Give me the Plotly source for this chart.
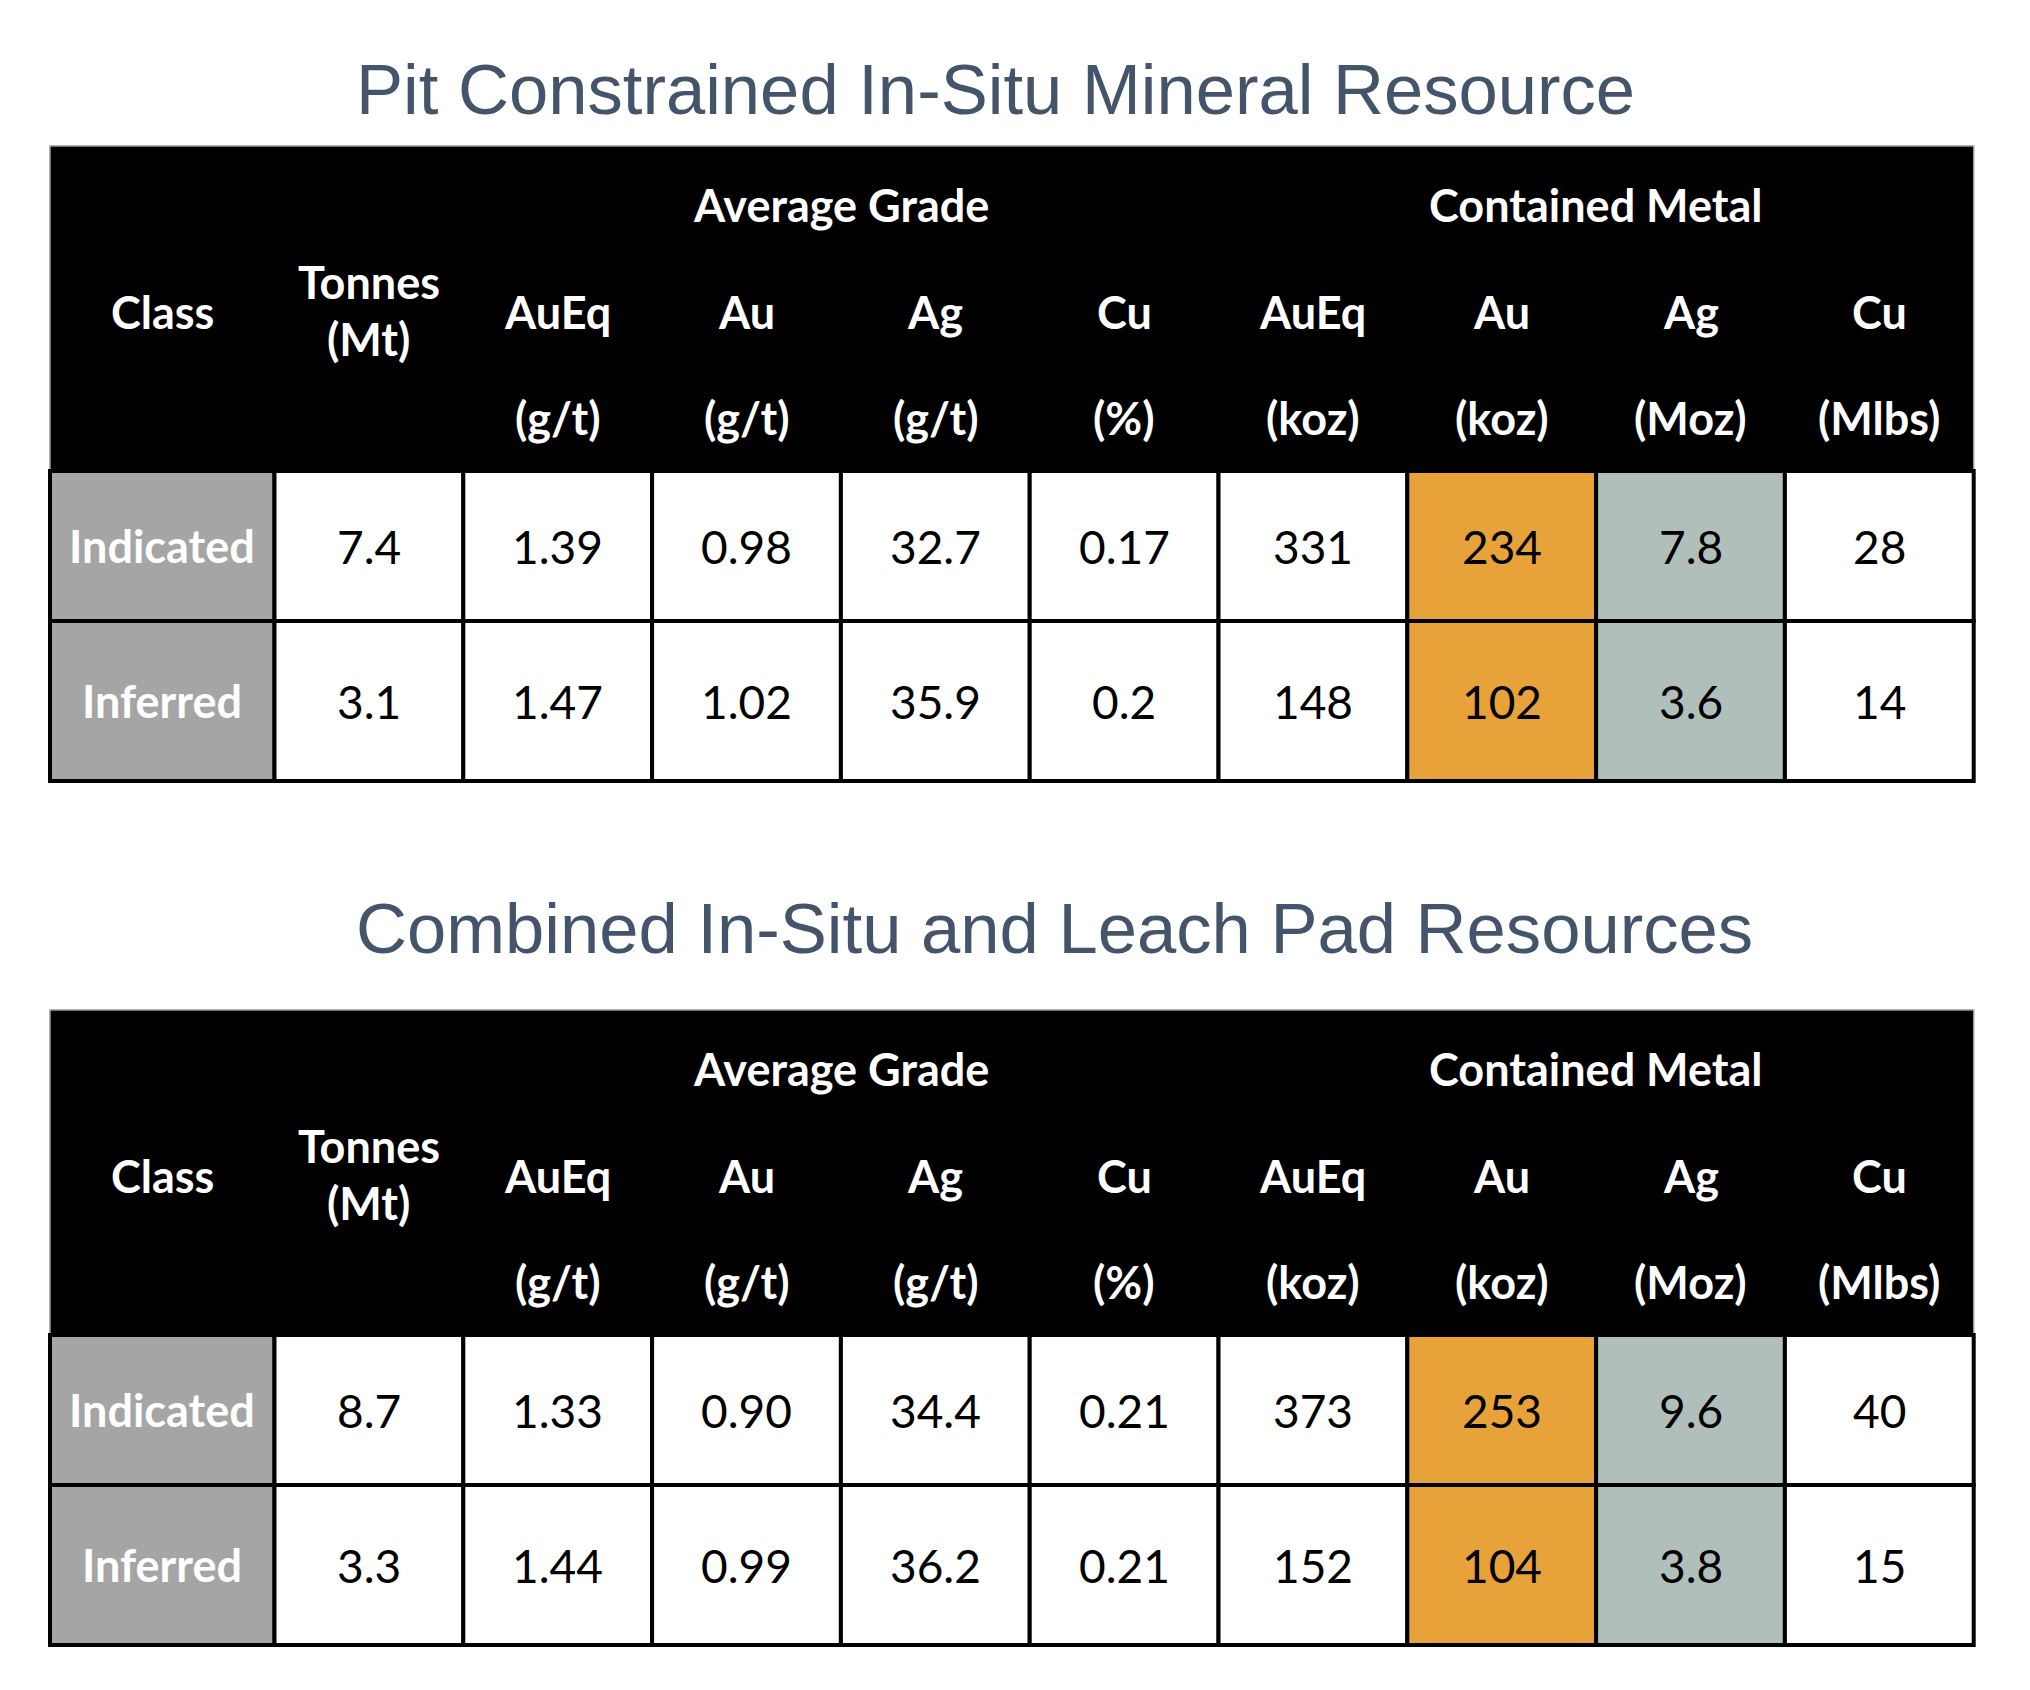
import plotly.graph_objects as go

# ---------------- data ----------------
titles = ["Pit Constrained In-Situ Mineral Resource",
          "Combined In-Situ and Leach Pad Resources"]
group_labels = ["Average Grade", "Contained Metal"]
col_names = ["Class", "Tonnes", "AuEq", "Au", "Ag", "Cu", "AuEq", "Au", "Ag", "Cu"]
col_units = ["", "(Mt)", "(g/t)", "(g/t)", "(g/t)", "(%)", "(koz)", "(koz)", "(Moz)", "(Mlbs)"]
classes = ["Indicated", "Inferred"]

pit_indicated = ["7.4", "1.39", "0.98", "32.7", "0.17", "331", "234", "7.8", "28"]
pit_inferred = ["3.1", "1.47", "1.02", "35.9", "0.2", "148", "102", "3.6", "14"]
combined_indicated = ["8.7", "1.33", "0.90", "34.4", "0.21", "373", "253", "9.6", "40"]
combined_inferred = ["3.3", "1.44", "0.99", "36.2", "0.21", "152", "104", "3.8", "15"]

tables = [
    (titles[0], [pit_indicated, pit_inferred]),
    (titles[1], [combined_indicated, combined_inferred]),
]

# ---------------- layout / style constants ----------------
PAGE_W, PAGE_H = 2030, 1690
BODY = 8                      # default body margin of the html page
TABLE_LEFT = 50
CLASS_W = 224.5
COL_W = 188.8
TABLE_TOPS = [146, 1010]
HEADER_H = 325
ROW_HS = [150, 160]
TITLE_X = 354
TITLE_Y = [89.5, 928]
TITLE_SIZE = 70.6

TITLE_COLOR = "#44546A"
HEADER_BG = "#000000"
CLASS_BG = "#A5A5A5"
GOLD_BG = "#E8A23A"
SILVER_BG = "#B0BFBA"
WHITE = "#FFFFFF"
col_fill = [CLASS_BG, WHITE, WHITE, WHITE, WHITE, WHITE, WHITE, GOLD_BG, SILVER_BG, WHITE]

FONT = "Lato, Carlito, Calibri, sans-serif"
HEAD_SIZE = 45
DATA_SIZE = 46
LINE_W = 4

edges = [TABLE_LEFT, TABLE_LEFT + CLASS_W] + [TABLE_LEFT + CLASS_W + k * COL_W for k in range(1, 10)]
centers = [(edges[i] + edges[i + 1]) / 2 for i in range(len(edges) - 1)]
group_spans = [(2, 5), (6, 9)]

fig = go.Figure()
shapes = []
annotations = []


def ann(x, y, text, size, color, family, bold=False, xanchor="center"):
    annotations.append(dict(
        x=x, y=y, xref="x", yref="y", text=("<b>%s</b>" % text) if bold else text,
        showarrow=False, xanchor=xanchor, yanchor="middle",
        font=dict(size=size, color=color, family=family),
    ))


for t, (title, rows) in enumerate(tables):
    top = TABLE_TOPS[t]
    ann(TITLE_X, TITLE_Y[t], title, TITLE_SIZE, TITLE_COLOR, "Liberation Sans, Arial, sans-serif", xanchor="left")

    # header block
    hb = top + HEADER_H
    shapes.append(dict(type="rect", xref="x", yref="y", x0=edges[0], x1=edges[-1], y0=top, y1=hb,
                       fillcolor=HEADER_BG, line=dict(color="#9A9A9A", width=1.5), layer="below"))
    for g, (a, b) in enumerate(group_spans):
        ann((edges[a] + edges[b + 1]) / 2, top + 59, group_labels[g], HEAD_SIZE, WHITE, FONT, bold=True)
    for c, name in enumerate(col_names):
        if col_units[c] == "(Mt)":
            ann(centers[c], top + 136, name, HEAD_SIZE, WHITE, FONT, bold=True)
            ann(centers[c], top + 193, col_units[c], HEAD_SIZE, WHITE, FONT, bold=True)
        else:
            ann(centers[c], top + 166, name, HEAD_SIZE, WHITE, FONT, bold=True)
            if col_units[c]:
                ann(centers[c], top + 272, col_units[c], HEAD_SIZE, WHITE, FONT, bold=True)

    # data rows
    y0 = hb
    for r, vals in enumerate(rows):
        y1 = y0 + ROW_HS[r]
        cells = [classes[r]] + vals
        for c, txt in enumerate(cells):
            shapes.append(dict(type="rect", xref="x", yref="y", x0=edges[c], x1=edges[c + 1], y0=y0, y1=y1,
                               fillcolor=col_fill[c], line=dict(color="#000000", width=LINE_W), layer="below"))
            if c == 0:
                ann(centers[c], (y0 + y1) / 2, txt, HEAD_SIZE, WHITE, FONT, bold=True)
            else:
                ann(centers[c], (y0 + y1) / 2, txt, DATA_SIZE, "#000000", FONT)
        y0 = y1

fig.update_layout(
    width=PAGE_W - 2 * BODY, height=PAGE_H - 2 * BODY,
    margin=dict(l=0, r=0, t=0, b=0, pad=0),
    paper_bgcolor="white", plot_bgcolor="white",
    xaxis=dict(range=[BODY, PAGE_W - BODY], visible=False, fixedrange=True),
    yaxis=dict(range=[PAGE_H - BODY, BODY], visible=False, fixedrange=True),
    shapes=shapes, annotations=annotations, showlegend=False,
)

fig.write_html("out.html", config={"displayModeBar": False})
